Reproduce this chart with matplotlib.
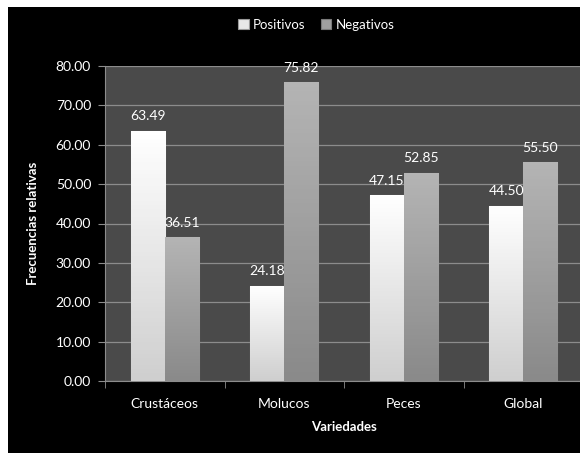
import matplotlib
matplotlib.use("Agg")
import matplotlib.pyplot as plt
import numpy as np
from matplotlib.patches import Rectangle
from matplotlib.colors import LinearSegmentedColormap

categories = ["Crustáceos", "Molucos", "Peces", "Global"]
positivos = [63.49, 24.18, 47.15, 44.50]
negativos = [36.51, 75.82, 52.85, 55.50]

plt.rcParams['font.family'] = ['Lato', 'DejaVu Sans']

fig = plt.figure(figsize=(5.8, 4.53), dpi=100, facecolor='white')
# black chart area (white margin at left / top like the original)
bg = Rectangle((8 / 580, 0), 1, 1 - 7 / 453, transform=fig.transFigure,
               facecolor='black', edgecolor='none', zorder=-10)
fig.add_artist(bg)

ax = fig.add_axes([105 / 580, 1 - 381 / 453, 478 / 580, 315 / 453])
ax.set_facecolor('#4a4a4a')

x = np.arange(len(categories))
w = 0.285
cm_pos = LinearSegmentedColormap.from_list('pos', ['#ffffff', '#cfcfcf'])
cm_neg = LinearSegmentedColormap.from_list('neg', ['#b4b4b4', '#8a8a8a'])


def gradient_bars(bars, cmap):
    grad = np.linspace(0, 1, 64).reshape(-1, 1)
    for b in bars:
        x0, y0 = b.get_x(), b.get_y()
        im = ax.imshow(grad, cmap=cmap, aspect='auto', zorder=3,
                       extent=(x0, x0 + b.get_width(), y0, y0 + b.get_height()),
                       origin='upper')
        im.set_clip_path(b)


b1 = ax.bar(x - w / 2, positivos, w, color='#e8e8e8', edgecolor='#9a9a9a', linewidth=0.8, zorder=2)
b2 = ax.bar(x + w / 2, negativos, w, color='#a0a0a0', edgecolor='#7a7a7a', linewidth=0.8, zorder=2)
gradient_bars(b1, cm_pos)
gradient_bars(b2, cm_neg)

for bars, vals in ((b1, positivos), (b2, negativos)):
    for b, v in zip(bars, vals):
        ax.text(b.get_x() + b.get_width() / 2, v + 2.2, f"{v:.2f}", ha='center', va='bottom',
                color='white', fontsize=10, zorder=4)

ax.set_xlim(-0.5, len(categories) - 0.5)
ax.set_ylim(0, 80)
ax.set_yticks(np.arange(0, 81, 10))
ax.set_yticklabels([f"{v:.2f}" for v in np.arange(0, 81, 10)])
ax.yaxis.grid(True, color='#8c8c8c', linewidth=0.9, zorder=1)
ax.set_axisbelow(True)

ax.set_xticks(x)
ax.set_xticklabels(categories)
ax.set_xticks(np.arange(-0.5, len(categories), 1), minor=True)
ax.tick_params(axis='x', which='major', length=0, pad=12, colors='white', labelsize=10)
ax.tick_params(axis='x', which='minor', length=5, color='#8c8c8c')
ax.tick_params(axis='y', length=5, color='#8c8c8c', colors='white', labelsize=10, pad=5)
ax.tick_params(axis='y', color='#8c8c8c')

for s in ('top', 'right'):
    ax.spines[s].set_visible(False)
for s in ('left', 'bottom'):
    ax.spines[s].set_color('#8c8c8c')

ax.set_ylabel("Frecuencias relativas", color='white', fontsize=9.5, fontweight='bold', labelpad=12)
ax.set_xlabel("Variedades", color='white', fontsize=9.5, fontweight='bold', labelpad=8)

leg = fig.legend([b1, b2], ["Positivos", "Negativos"], loc='center', bbox_to_anchor=(0.545, 0.945),
                 ncol=2, frameon=False, fontsize=9.5, labelcolor='white', handlelength=0.8,
                 handleheight=0.8, handletextpad=0.3, columnspacing=1.2)

fig.savefig("out.png", dpi=100, facecolor=fig.get_facecolor())
